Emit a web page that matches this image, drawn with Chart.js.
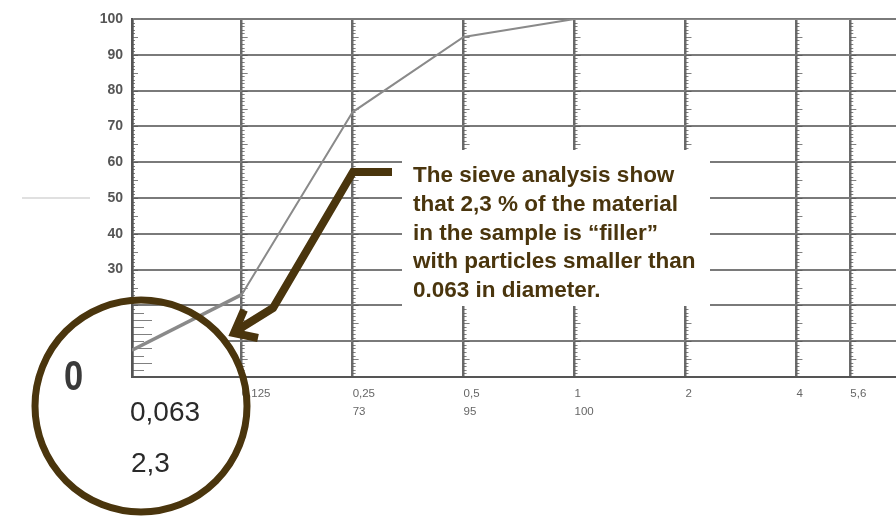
<!DOCTYPE html>
<html>
<head>
<meta charset="utf-8">
<script src="https://cdn.jsdelivr.net/npm/chart.js@4"></script>
<style>
  html, body { margin: 0; padding: 0; background: #fff; }
  #wrap { width: 896px; height: 519px; }
</style>
</head>
<body>
<div id="wrap"><canvas id="sieve" width="896" height="519"></canvas></div>
<script>
// sieve sizes (mm) and cumulative % passing
const sieveSizes = [0.063, 0.125, 0.25, 0.5, 1, 2, 4, 5.6]
const passing = [7.5, 23, 74, 95, 100, 100, 100, 100]
const sizeLabels = ['', '0,125', '0,25', '0,5', '1', '2', '4', '5,6']
const passLabels = ['', '', '73', '95', '100', '', '', '']
const yTicks = [0, 10, 20, 30, 40, 50, 60, 70, 80, 90, 100]

const brown = '#4a350d'
const noteLines = [
    'The sieve analysis show',
    'that 2,3 % of the material',
    'in the sample is \u201cfiller\u201d',
    'with particles smaller than',
    '0.063 in diameter.'
]

// circle of the "magnifier"
const lens = { x: 141, y: 406, r: 106 }

// little dashes along every vertical line, like on the log paper
const paperTicks = {
    id: 'paperTicks',
    beforeDatasetsDraw(chart) {
        const ctx = chart.ctx
        const xs = chart.scales.x
        const ys = chart.scales.y
        ctx.save()

        // the 10 % line is not drawn inside the lens
        const y10 = ys.getPixelForValue(10)
        const dx = Math.sqrt(lens.r * lens.r - (y10 - lens.y) * (y10 - lens.y))
        ctx.fillStyle = '#fff'
        ctx.fillRect(xs.left + 2, y10 - 2, lens.x + dx - xs.left - 2, 4)

        // scan artefact at the left
        ctx.strokeStyle = 'rgba(0,0,0,0.12)'
        ctx.lineWidth = 2
        ctx.beginPath()
        ctx.moveTo(22, ys.getPixelForValue(50))
        ctx.lineTo(90, ys.getPixelForValue(50))
        ctx.stroke()

        ctx.strokeStyle = 'rgba(85,85,85,0.75)'
        ctx.lineWidth = 1
        sieveSizes.forEach((s, idx) => {
            const px = xs.getPixelForValue(s)
            for (let v = 1; v < 100; v++) {
                let len = v % 5 == 0 ? 6 : 3
                if (idx == 0 && v < 19) {
                    if (v % 2 == 1) continue
                    len = v % 4 == 0 ? 20 : 12
                }
                const py = Math.round(ys.getPixelForValue(v)) + 0.5
                ctx.beginPath()
                ctx.moveTo(px, py)
                ctx.lineTo(px + len, py)
                ctx.stroke()
            }
        })
        ctx.restore()
    }
}

const overlay = {
    id: 'overlay',
    afterDraw(chart) {
        const ctx = chart.ctx
        ctx.save()

        // note box
        ctx.fillStyle = '#ffffff'
        ctx.fillRect(402, 150, 308, 156)
        ctx.fillStyle = brown
        ctx.font = 'bold 22.5px "Liberation Sans", Arial, sans-serif'
        ctx.textBaseline = 'alphabetic'
        noteLines.forEach((t, i) => {
            ctx.fillText(t, 413, 182 + i * 28.75)
        })

        // arrow
        ctx.strokeStyle = brown
        ctx.lineWidth = 8
        ctx.lineJoin = 'miter'
        ctx.beginPath()
        ctx.moveTo(392, 172)
        ctx.lineTo(353, 172)
        ctx.lineTo(273, 308)
        ctx.lineTo(236, 331)
        ctx.stroke()
        ctx.beginPath()
        ctx.moveTo(244, 310)
        ctx.lineTo(234, 333)
        ctx.lineTo(258, 338)
        ctx.stroke()

        // magnifier circle
        ctx.lineWidth = 7
        ctx.beginPath()
        ctx.arc(lens.x, lens.y, lens.r, 0, Math.PI * 2)
        ctx.stroke()

        ctx.fillStyle = '#2a2a2a'
        ctx.textBaseline = 'middle'
        ctx.font = '28px "Liberation Sans", Arial, sans-serif'
        ctx.fillText('0,063', 130, 413)
        ctx.fillText('2,3', 131, 464)

        ctx.save()
        ctx.translate(64, 378)
        ctx.scale(0.82, 1)
        ctx.fillStyle = '#3a3a3a'
        ctx.font = 'bold 42px "Liberation Sans", Arial, sans-serif'
        ctx.fillText('0', 0, 0)
        ctx.restore()

        ctx.restore()
    }
}

new Chart('sieve', {
    type: 'line',
    data: {
        datasets: [{
            data: sieveSizes.map((s, i) => ({ x: s, y: passing[i] })),
            borderColor: '#8a8a8a',
            borderWidth: 2,
            pointRadius: 0,
            tension: 0,
            segment: {
                borderWidth: c => c.p0DataIndex == 0 ? 3.5 : 2
            }
        }]
    },
    options: {
        responsive: false,
        animation: false,
        layout: { padding: { top: 19, right: 0, left: 0, bottom: 0 } },
        plugins: { legend: { display: false }, tooltip: { enabled: false } },
        scales: {
            x: {
                type: 'logarithmic',
                min: 0.063,
                max: 7.45,
                afterBuildTicks: (scale) => {
                    scale.ticks = sieveSizes.map(v => ({ value: v }))
                },
                afterFit: (scale) => { scale.height = 142 },
                grid: { color: '#6a6a6a', lineWidth: 2.5, drawTicks: false },
                border: { color: '#555', width: 2 },
                ticks: {
                    autoSkip: false,
                    maxRotation: 0,
                    align: 'start',
                    padding: 8,
                    color: '#666',
                    font: { family: '"Liberation Sans", Arial, sans-serif', size: 11.5, lineHeight: 1.55 },
                    callback: (v, i) => [sizeLabels[i], passLabels[i]]
                }
            },
            y: {
                min: 0,
                max: 100,
                afterBuildTicks: (scale) => {
                    scale.ticks = yTicks.map(v => ({ value: v }))
                },
                afterFit: (scale) => { scale.width = 132 },
                grid: { color: '#7a7a7a', lineWidth: 2, drawTicks: false },
                border: { color: '#555', width: 2.5 },
                ticks: {
                    padding: 9,
                    color: '#555',
                    font: { family: '"Liberation Sans", Arial, sans-serif', size: 14, weight: 'bold' },
                    callback: (v) => v <= 20 ? '' : v
                }
            }
        }
    },
    plugins: [paperTicks, overlay]
})
</script>
</body>
</html>
